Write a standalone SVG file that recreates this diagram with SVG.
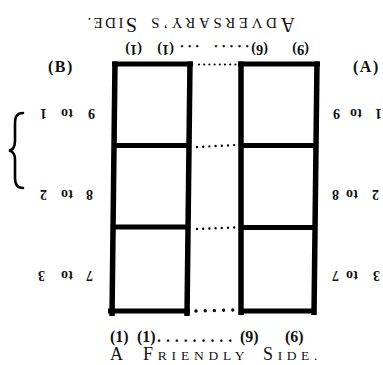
<svg xmlns="http://www.w3.org/2000/svg" width="383" height="365" viewBox="0 0 383 365">
<style>
.serif{font-family:"Liberation Serif","DejaVu Serif",serif;fill:#111}
.b{font-weight:bold}
.lbl{font-weight:bold;font-size:14px}
.ln{stroke:#000;fill:none;stroke-width:5.5}
.hz{stroke:#000;fill:none;stroke-width:5}
.dot{stroke:#000;fill:none;stroke-linecap:round}
</style>
<rect width="383" height="365" fill="#fff"/>

<g id="heading-adversary">
<text class="serif" transform="rotate(180 191.5 18)" x="88" y="18" letter-spacing="3.6"><tspan font-size="20">A</tspan><tspan font-size="15">DVERSARY’S </tspan><tspan x="246" font-size="20" letter-spacing="2.4">S</tspan><tspan font-size="15" letter-spacing="2.4">IDE.</tspan></text>
</g>

<g id="numbers-top">
<text class="serif b" font-size="14.5" transform="rotate(180 191.5 45)" y="45"><tspan x="74">(9) </tspan><tspan x="115">(6)</tspan><tspan x="134" letter-spacing="4.2">..... </tspan><tspan x="184" letter-spacing="4">...</tspan><tspan x="209">(1) </tspan><tspan x="241">(1)</tspan></text>
</g>

<g id="label-B"><text class="serif b" font-size="16" x="48" y="72" letter-spacing="1.5">(B)</text></g>
<g id="label-A"><text class="serif b" font-size="16" x="353" y="72" letter-spacing="1.5">(A)</text></g>

<g id="brace">
<path d="M23,113 C16.5,113 15,117 15,124 L15,141 C15,146.5 12.5,150 9,150.5 C12.5,151 15,154 15,160 L15,178 C15,184 17,188 23,188" fill="none" stroke="#000" stroke-width="2.6" stroke-linecap="round"/>
</g>

<g id="labels-left">
<text class="serif lbl" transform="rotate(180 191.5 109)" x="288 295 310 315 322 336" y="109">9 to 1</text>
<text class="serif lbl" transform="rotate(180 191.5 190)" x="290 297 310 315 322 336" y="190">8 to 2</text>
<text class="serif lbl" transform="rotate(180 191.5 271)" x="290 297 310 315 322 338" y="271">7 to 3</text>
</g>

<g id="labels-right">
<text class="serif lbl" transform="rotate(180 191.5 109)" x="1 8 21 26 34 43" y="109">1 to 9</text>
<text class="serif lbl" transform="rotate(180 191.5 190)" x="4 11 25 30 38 44" y="190">2 to 8</text>
<text class="serif lbl" transform="rotate(180 191.5 271)" x="3 10 25 30 38 44" y="271">3 to 7</text>
</g>

<g id="column-left">
<line class="hz" x1="112" y1="64" x2="193" y2="64"/>
<line class="ln" x1="115" y1="61.5" x2="112" y2="316"/>
<line class="ln" x1="190" y1="61.5" x2="187" y2="316"/>
<line class="hz" x1="115" y1="145.5" x2="190" y2="145.5"/>
<line class="hz" x1="114" y1="227" x2="189" y2="227"/>
<line class="hz" x1="108" y1="311" x2="190" y2="311"/>
</g>

<g id="column-right">
<line class="hz" x1="238" y1="64" x2="320" y2="64"/>
<line class="ln" x1="241" y1="61.5" x2="241" y2="315"/>
<line class="ln" x1="317" y1="61.5" x2="314" y2="315"/>
<line class="hz" x1="241" y1="145.5" x2="317" y2="145.5"/>
<line class="hz" x1="241" y1="227.5" x2="316" y2="227.5"/>
<line class="hz" x1="239" y1="311" x2="316" y2="311"/>
</g>

<g id="connectors">
<line class="dot" x1="199" y1="64.5" x2="236" y2="64.5" stroke-width="2.2" stroke-dasharray="0 5.2"/>
<line class="dot" x1="197" y1="147" x2="236" y2="145" stroke-width="2.4" stroke-dasharray="0 6.2"/>
<line class="dot" x1="197" y1="229" x2="236" y2="227.5" stroke-width="2.4" stroke-dasharray="0 6.2"/>
<line class="dot" x1="196" y1="311" x2="233" y2="310" stroke-width="3.4" stroke-dasharray="0 9.2"/>
</g>

<g id="numbers-bottom">
<text class="serif b" font-size="16" y="342"><tspan x="110">(1) </tspan><tspan x="137">(1)</tspan><tspan x="157" letter-spacing="4.9">.........</tspan><tspan x="240">(9) </tspan><tspan x="285">(6)</tspan></text>
</g>

<g id="heading-friendly">
<text class="serif" y="360"><tspan x="110" font-size="18">A </tspan><tspan x="143" font-size="18" letter-spacing="4.8">F</tspan><tspan font-size="13.5" letter-spacing="4.8">RIENDLY </tspan><tspan x="263" font-size="18" letter-spacing="4.6">S</tspan><tspan font-size="13.5" letter-spacing="4.6">IDE.</tspan></text>
</g>
</svg>
